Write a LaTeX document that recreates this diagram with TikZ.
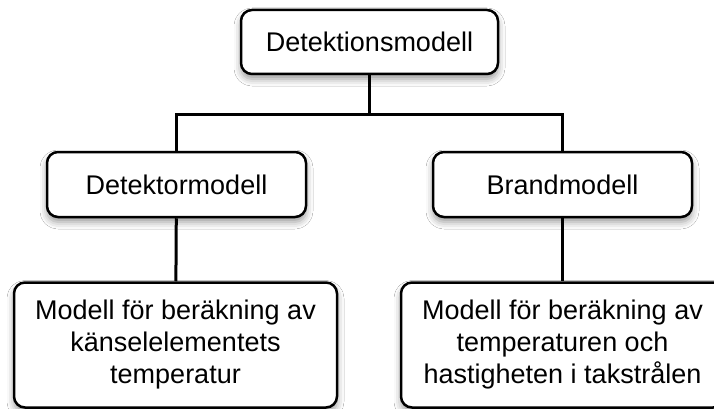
\documentclass[tikz,border=0pt]{standalone}
\usepackage{fontspec}
\setmainfont{Liberation Sans}
\usetikzlibrary{shadows.blur}

\begin{document}
\begin{tikzpicture}[x=1pt,y=-1pt,
        box/.style={draw=black,line width=2.5pt,rounded corners=11pt,fill=white,
            align=center,inner sep=0pt,
            font=\fontsize{27}{32}\selectfont,
            blur shadow={shadow xshift=0pt,shadow yshift=-5pt,shadow blur radius=7pt,shadow opacity=40}},
        link/.style={line width=3pt}]
        \useasboundingbox[fill=white] (0,0) rectangle (714,409);
        \begin{scope}
        \clip (0,0) rectangle (714,409);

        \node[box,minimum width=257pt,minimum height=64pt] (model) at (369.5,42) {Detektionsmodell};
        \node[box,minimum width=259pt,minimum height=65pt] (detektor) at (176.5,184.5) {Detektormodell};
        \node[box,minimum width=259pt,minimum height=65pt] (brand) at (562.5,184.5) {Brandmodell};
        \node[box,minimum width=323pt,minimum height=125pt] (kansel) at (175.5,345) {Modell för beräkning av\\känselelementets\\temperatur};
        \node[box,minimum width=323pt,minimum height=125pt] (takstrale) at (562.5,345) {Modell för beräkning av\\temperaturen och\\hastigheten i takstrålen};

        \coordinate (split) at (369.5,114.5);
        \draw[link] (model) -- (split);
        \draw[link] (detektor.north) |- (split) -| (brand.north);
        \draw[link] (detektor) -- (kansel);
        \draw[link] (brand) -- (takstrale);
        \end{scope}
    \end{tikzpicture}
\end{document}
